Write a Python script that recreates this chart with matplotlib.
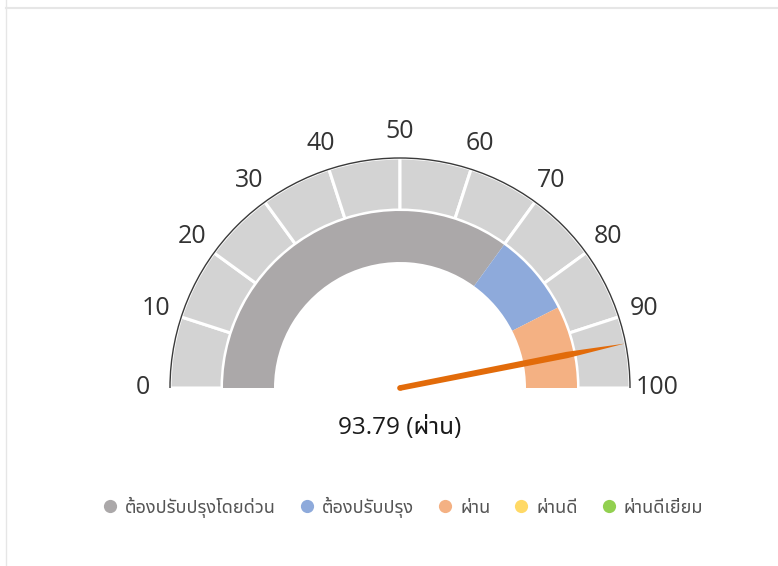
import matplotlib
matplotlib.use("Agg")
import matplotlib.pyplot as plt
import matplotlib.patches as mpatches
from matplotlib.lines import Line2D
import numpy as np

# data
ticks = [0, 10, 20, 30, 40, 50, 60, 70, 80, 90, 100]
band_names = ['ต้องปรับปรุงโดยด่วน', 'ต้องปรับปรุง', 'ผ่าน', 'ผ่านดี', 'ผ่านดีเยี่ยม']
band_from = [0, 70, 85, 100, 100]
band_to = [70, 85, 100, 100, 100]
band_colors = ['#aba8a9', '#8eaadb', '#f4b183', '#ffd966', '#92d050']
score = 93.79
score_label = 'ผ่าน'

plt.rcParams['font.family'] = ['Noto Sans Thai UI', 'Open Sans', 'DejaVu Sans']

fig = plt.figure(figsize=(7.78, 5.66), dpi=100)
ax = fig.add_axes([0, 0, 1, 1])
ax.set_xlim(0, 778)
ax.set_ylim(0, 566)
ax.axis('off')

cx, cy = 400, 566 - 388
r_out, r_scale_in = 230, 178
r_band, band_w = 177, 51


def ang(v):
    return 180 - v * 1.8


# scale ring
for a, b in zip(ticks[:-1], ticks[1:]):
    ax.add_patch(mpatches.Wedge((cx, cy), r_out, ang(b), ang(a), width=r_out - r_scale_in,
                                facecolor='#d3d3d3', edgecolor='white', lw=2.2))
ax.add_patch(mpatches.Arc((cx, cy), 2 * r_out, 2 * r_out, theta1=0, theta2=180,
                          color='#3a3a3a', lw=1.0))

# colour bands
for a, b, c in zip(band_from, band_to, band_colors):
    if b > a:
        ax.add_patch(mpatches.Wedge((cx, cy), r_band, ang(b), ang(a), width=band_w,
                                    facecolor=c, edgecolor='none'))

# tick labels
for t in ticks:
    th = np.radians(ang(t))
    ax.text(cx + 257 * np.cos(th), cy + 257 * np.sin(th), str(t), ha='center', va='center',
            fontsize=18, color='#333333', family=['Open Sans', 'DejaVu Sans'])

# needle
th = np.radians(ang(score))
d = np.array([np.cos(th), np.sin(th)])
n = np.array([-d[1], d[0]])
p0 = np.array([cx, cy])
pts = [p0 + n * 2.8, p0 + d * 170 + n * 3.2, p0 + d * 229, p0 + d * 170 - n * 3.2, p0 - n * 2.8]
ax.add_patch(mpatches.Polygon(pts, closed=True, facecolor='#e26b0a', edgecolor='none'))
ax.add_patch(mpatches.Circle(p0, 2.8, facecolor='#e26b0a', edgecolor='none'))

ax.text(cx, 566 - 428, f'{score:.2f} ({score_label})', ha='center', va='center',
        fontsize=17.5, color='#1a1a1a')

# legend
handles = [Line2D([], [], marker='o', ls='none', markersize=9.5, markerfacecolor=c,
                  markeredgecolor='none', label=nm) for nm, c in zip(band_names, band_colors)]
leg = fig.legend(handles=handles, loc='center', bbox_to_anchor=(402 / 778, 1 - 507 / 566), ncol=5,
                 frameon=False, fontsize=13, handletextpad=0.35, columnspacing=1.2, handlelength=1.0)
for t in leg.get_texts():
    t.set_color('#555555')

# frame lines
fig.add_artist(Line2D([6 / 778, 1], [1 - 8 / 566, 1 - 8 / 566], color='#e6e6e6', lw=1.5))
fig.add_artist(Line2D([6 / 778, 6 / 778], [0, 1], color='#e6e6e6', lw=1))

fig.savefig('out.png', dpi=100, facecolor='white')
